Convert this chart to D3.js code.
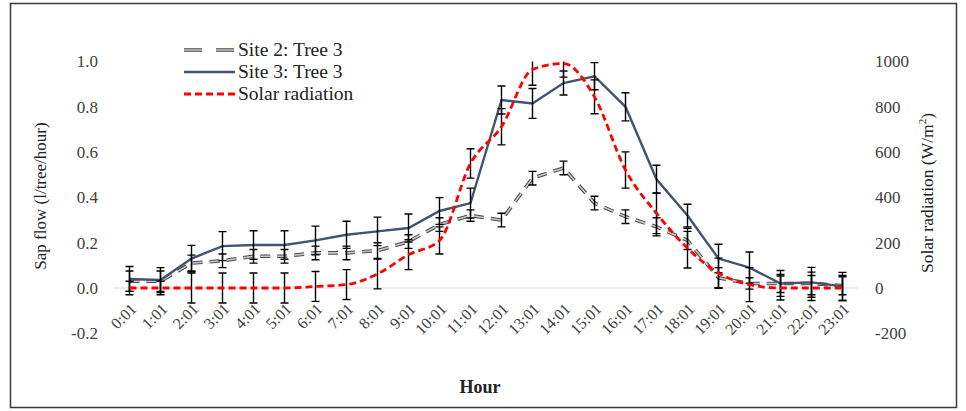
<!DOCTYPE html>
<html>
<head>
<meta charset="utf-8">
<script src="https://cdn.jsdelivr.net/npm/d3@7"></script>
<style>
  body { margin: 0; background: #fff; }
  svg { display: block; font-family: "Liberation Serif", "Times New Roman", serif; }
</style>
</head>
<body>
<div id="chart"></div>
<script>
// Données
const hours = ["0:01","1:01","2:01","3:01","4:01","5:01","6:01","7:01","8:01","9:01","10:01","11:01",
  "12:01","13:01","14:01","15:01","16:01","17:01","18:01","19:01","20:01","21:01","22:01","23:01"];

const site2 = [0.03,0.03,0.11,0.12,0.14,0.14,0.155,0.155,0.165,0.205,0.28,0.32,
  0.30,0.485,0.53,0.375,0.315,0.27,0.21,0.045,0.02,0.02,0.02,0.01];
const site2Err = [0.045,0.045,0.035,0.03,0.03,0.03,0.03,0.03,0.035,0.03,0.03,0.025,
  0.03,0.03,0.03,0.03,0.03,0.04,0.04,0.045,0.025,0.04,0.05,0.04];

const site3 = [0.04,0.035,0.13,0.185,0.19,0.19,0.21,0.235,0.25,0.265,0.34,0.375,
  0.83,0.815,0.905,0.935,0.80,0.48,0.32,0.13,0.09,0.02,0.025,0.007];
const site3Err = [0.055,0.055,0.058,0.064,0.063,0.063,0.063,0.06,0.063,0.062,0.059,0.066,
  0.062,0.066,0.053,0.06,0.062,0.062,0.05,0.063,0.069,0.057,0.066,0.062];

const solar = [0,0,0,0,0,0,7,15,62,147,210,550,712,965,991,844,521,330,176,66,15,0,0,0];
const solarErr = [30,30,66,66,66,66,66,66,66,66,60,65,80,70,60,75,80,90,88,66,75,53,55,55];

const leftTicks = [-0.2,0.0,0.2,0.4,0.6,0.8,1.0];
const rightTicks = [-200,0,200,400,600,800,1000];

function drawChart() {
    const width = 966, height = 411;
    const plot = { left: 114, right: 858, top: 61.5, bottom: 333.3 };

    const svg = d3.select("#chart").append("svg")
        .attr("width", width)
        .attr("height", height);

    // cadre
    svg.append("rect")
        .attr("x", 10.5).attr("y", 3.5)
        .attr("width", 946).attr("height", 404)
        .attr("fill", "none")
        .attr("stroke", "#3a3a3a")
        .attr("stroke-width", 1.5);

    svg.append("clipPath").attr("id", "clip")
        .append("rect")
        .attr("x", plot.left).attr("y", plot.top)
        .attr("width", plot.right - plot.left)
        .attr("height", plot.bottom - plot.top);

    // Echelles
    const x = d3.scaleBand().domain(hours).range([plot.left, plot.right]);
    const cx = d => x(d) + x.bandwidth() / 2;
    const yL = d3.scaleLinear().domain([-0.2, 1.0]).range([plot.bottom, plot.top]);
    const yR = d3.scaleLinear().domain([-200, 1000]).range([plot.bottom, plot.top]);

    // ligne du zéro
    svg.append("line")
        .attr("x1", plot.left).attr("x2", plot.right)
        .attr("y1", yL(0)).attr("y2", yL(0))
        .attr("stroke", "#d9d9d9").attr("stroke-width", 1);

    // Axe gauche
    const axL = svg.append("g")
        .attr("transform", "translate(" + (plot.left - 13) + ",0)")
        .call(d3.axisLeft(yL).tickValues(leftTicks)
            .tickFormat(d => d3.format(".1f")(d).replace("−", "-")).tickSize(0));
    axL.select(".domain").remove();
    axL.selectAll("text").attr("font-size", 17).attr("fill", "#404040")
        .style("font-family", "Liberation Serif");

    // Axe droit
    const axR = svg.append("g")
        .attr("transform", "translate(" + (plot.right + 14) + ",0)")
        .call(d3.axisRight(yR).tickValues(rightTicks)
            .tickFormat(d => d3.format("d")(d).replace("−", "-")).tickSize(0));
    axR.select(".domain").remove();
    axR.selectAll("text").attr("font-size", 17).attr("fill", "#404040")
        .style("font-family", "Liberation Serif");

    // Axe des x
    const axX = svg.append("g")
        .attr("transform", "translate(0," + yL(0) + ")")
        .call(d3.axisBottom(x).tickSize(0));
    axX.select(".domain").remove();
    axX.selectAll("text")
        .attr("font-size", 16).attr("fill", "#404040")
        .style("font-family", "Liberation Serif")
        .attr("text-anchor", "end")
        .attr("x", 0).attr("y", 0)
        .attr("dx", 0).attr("dy", "0.35em")
        .attr("transform", "translate(4,18) rotate(-45)");

    // Titres des axes
    svg.append("text")
        .attr("transform", "translate(46,196) rotate(-90)")
        .attr("text-anchor", "middle")
        .attr("font-size", 17).attr("fill", "#222")
        .text("Sap flow  (l/tree/hour)");

    const rt = svg.append("text")
        .attr("transform", "translate(933,193) rotate(-90)")
        .attr("text-anchor", "middle")
        .attr("font-size", 17.5).attr("fill", "#222");
    rt.append("tspan").text("Solar radiation (W/m");
    rt.append("tspan").attr("font-size", 11).attr("dy", -7).text("2");
    rt.append("tspan").attr("dy", 7).text(")");

    svg.append("text")
        .attr("x", 480).attr("y", 393)
        .attr("text-anchor", "middle")
        .attr("font-size", 18).attr("font-weight", "bold").attr("fill", "#222")
        .text("Hour");

    const g = svg.append("g").attr("clip-path", "url(#clip)");

    // Barres d'erreur
    function errorBars(vals, errs, y) {
        const cap = 4;
        const eg = g.append("g");
        hours.forEach((h, i) => {
            const xx = cx(h), y1 = y(vals[i] + errs[i]), y2 = y(vals[i] - errs[i]);
            eg.append("line").attr("x1", xx).attr("x2", xx).attr("y1", y1).attr("y2", y2);
            eg.append("line").attr("x1", xx - cap).attr("x2", xx + cap).attr("y1", y1).attr("y2", y1);
            eg.append("line").attr("x1", xx - cap).attr("x2", xx + cap).attr("y1", y2).attr("y2", y2);
        });
        eg.attr("stroke", "#000").attr("stroke-width", 1.4);
    }

    // Site 2 : tirets gris avec contour foncé
    const line2 = d3.line().x((d, i) => cx(hours[i])).y(d => yL(d));
    g.append("path").datum(site2).attr("d", line2)
        .attr("fill", "none").attr("stroke", "#4a4a4a").attr("stroke-width", 3.6)
        .attr("stroke-dasharray", "10,7");
    g.append("path").datum(site2).attr("d", line2)
        .attr("fill", "none").attr("stroke", "#c8c8c8").attr("stroke-width", 1.6)
        .attr("stroke-dasharray", "10,7");

    // Site 3
    g.append("path").datum(site3).attr("d", line2)
        .attr("fill", "none").attr("stroke", "#44546a").attr("stroke-width", 2.4);

    errorBars(site2, site2Err, yL);
    errorBars(site3, site3Err, yL);
    errorBars(solar, solarErr, yR);

    // Rayonnement solaire
    const lineS = d3.line().x((d, i) => cx(hours[i])).y(d => yR(d)).curve(d3.curveMonotoneX);
    g.append("path").datum(solar).attr("d", lineS)
        .attr("fill", "none").attr("stroke", "#ff0000").attr("stroke-width", 2.8)
        .attr("stroke-dasharray", "7,4");

    // Légende
    const leg = svg.append("g");
    const lx1 = 184, lx2 = 235;
    const rows = [
        { y: 50, label: "Site 2:  Tree 3" },
        { y: 72, label: "Site 3:  Tree 3" },
        { y: 94, label: "Solar radiation" }
    ];
    leg.append("line").attr("x1", lx1).attr("x2", lx2).attr("y1", rows[0].y).attr("y2", rows[0].y)
        .attr("stroke", "#4a4a4a").attr("stroke-width", 3.6).attr("stroke-dasharray", "18,14");
    leg.append("line").attr("x1", lx1).attr("x2", lx2).attr("y1", rows[0].y).attr("y2", rows[0].y)
        .attr("stroke", "#c8c8c8").attr("stroke-width", 1.4).attr("stroke-dasharray", "18,14");
    leg.append("line").attr("x1", lx1).attr("x2", lx2).attr("y1", rows[1].y).attr("y2", rows[1].y)
        .attr("stroke", "#44546a").attr("stroke-width", 2.4);
    leg.append("line").attr("x1", lx1).attr("x2", lx2).attr("y1", rows[2].y).attr("y2", rows[2].y)
        .attr("stroke", "#ff0000").attr("stroke-width", 2.8).attr("stroke-dasharray", "7,4");
    leg.selectAll("text").data(rows).enter().append("text")
        .attr("x", 238).attr("y", d => d.y + 6)
        .attr("font-size", 19.5).attr("fill", "#222")
        .text(d => d.label);
}

document.addEventListener("DOMContentLoaded", drawChart);
</script>
</body>
</html>
